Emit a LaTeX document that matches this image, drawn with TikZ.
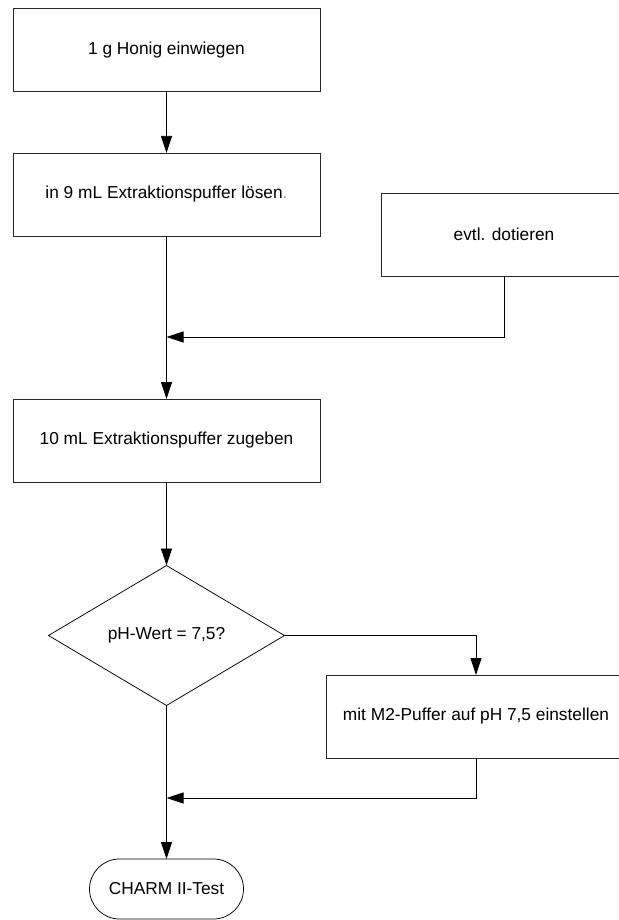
\documentclass[tikz,border=0pt]{standalone}
\usepackage{fontspec}
\setmainfont{Liberation Sans}
\usetikzlibrary{shapes, arrows, positioning, calc, arrows.meta}

\begin{document}
\begin{tikzpicture}[x=1pt, y=-1pt,
  font=\fontsize{17.3}{20}\selectfont, line width=0.75pt,
  stepbox/.style={draw=black!85, rectangle, minimum height=83pt, inner sep=0pt, outer sep=0pt},
  decision/.style={draw, diamond, minimum width=236pt, minimum height=140pt, aspect=1.69, inner sep=0pt, outer sep=0pt},
  terminal/.style={draw, rectangle, rounded corners=30pt, minimum width=154pt, minimum height=60pt, inner sep=0pt, outer sep=0pt},
  flow/.style={-{Triangle[length=17pt, width=11pt]}}]

\useasboundingbox (0, 0) rectangle (618, 920);

\node [stepbox, minimum width=307pt] (weigh) at (166.5, 50) {1 g Honig einwiegen};
\node [stepbox, minimum width=307pt] (dissolve) at (166.5, 194.5) {in 9 mL Extraktionspuffer l\"osen{\color{black!40}.}};
\node [stepbox, minimum width=246pt] (spike) at (504, 234.5) {evtl. dotieren};
\node [stepbox, minimum width=307pt] (buffer) at (166.5, 440.5) {10 mL Extraktionspuffer zugeben};
\node [decision] (phcheck) at (166.5, 635.5) {pH-Wert = 7,5?};
\node [stepbox, minimum width=300pt] (adjust) at (476, 716.5) {mit M2-Puffer auf pH 7,5 einstellen};
\node [terminal] (charm) at (166.5, 889) {CHARM II-Test};

\coordinate (merge1) at (166.5, 337);
\coordinate (merge2) at (166.5, 798);

\draw [flow] (weigh) -- (dissolve);
\draw [flow] (dissolve) -- (buffer);
\draw [flow] (spike.south) |- (merge1);
\draw [flow] (buffer) -- (phcheck);
\draw [flow] (phcheck.east) -| (adjust.north);
\draw [flow] (phcheck) -- (charm);
\draw [flow] (adjust.south) |- (merge2);

\end{tikzpicture}
\end{document}
